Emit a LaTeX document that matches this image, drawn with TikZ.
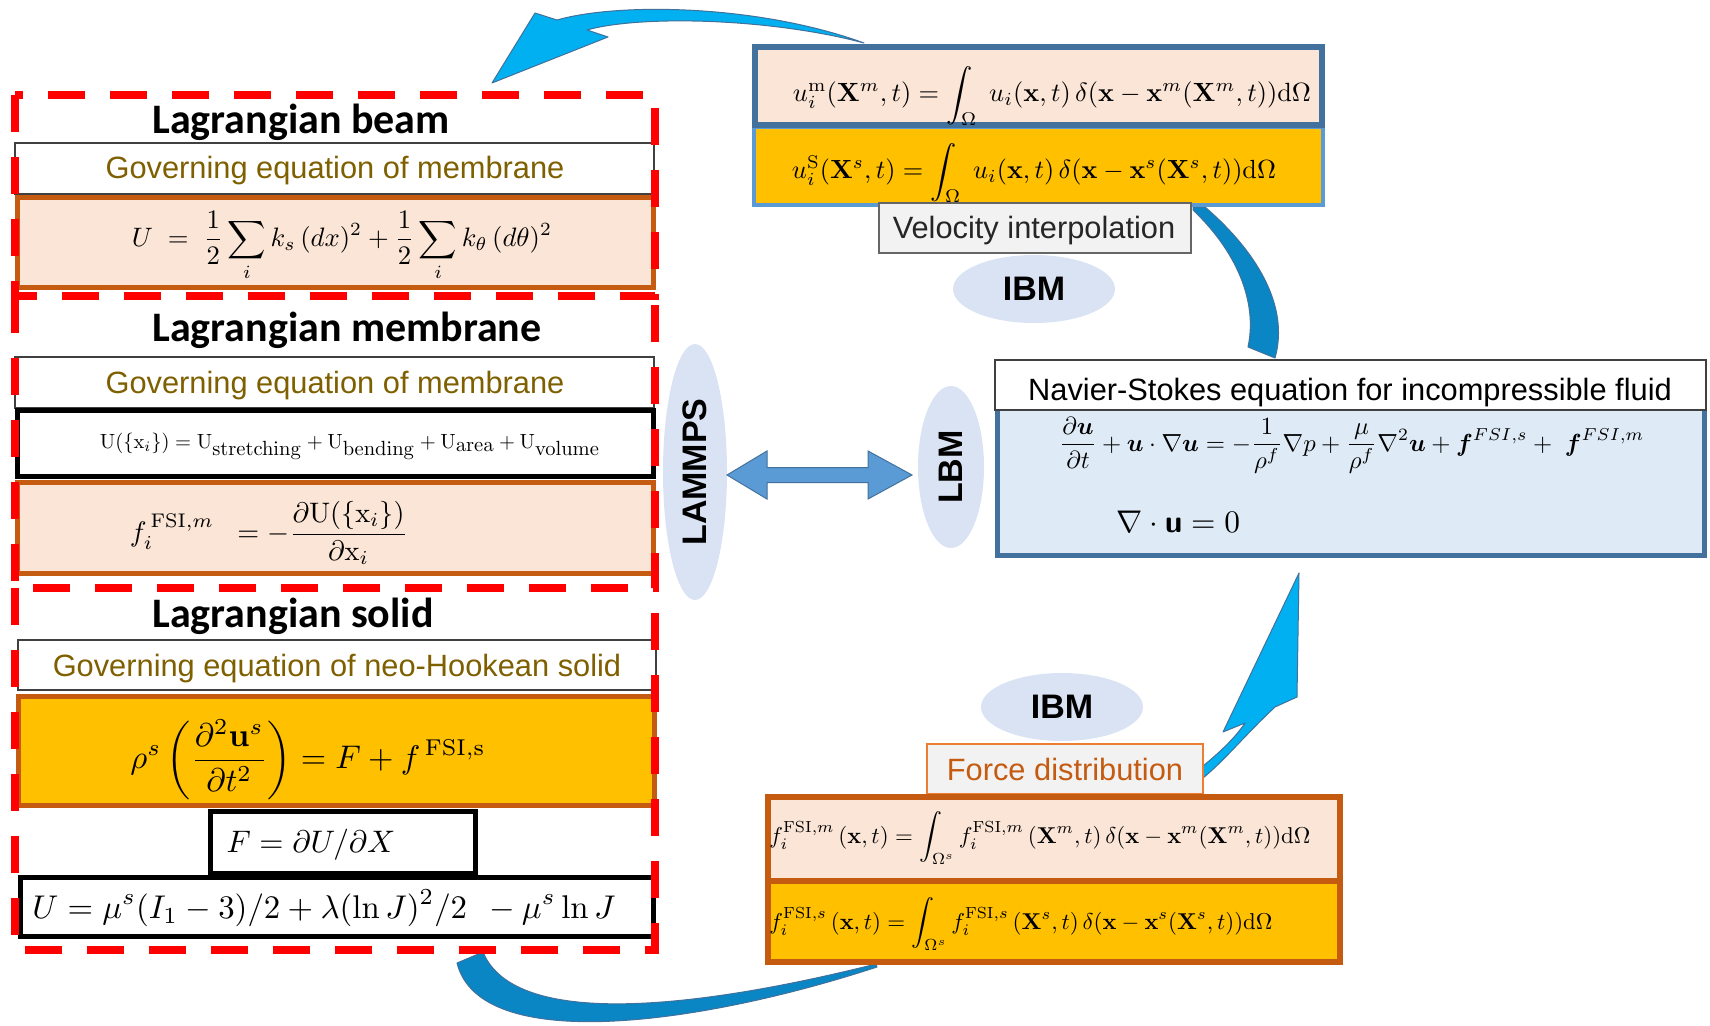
\documentclass[tikz,border=0pt]{standalone}
\usepackage[no-math]{fontspec}
\setmainfont{Liberation Sans}
\newfontfamily\calibfont{Carlito}
\usepackage{amsmath}
\usepackage{bm}
\usepackage{graphicx}
\usetikzlibrary{shapes.geometric,calc}

\definecolor{pinkfill}{HTML}{FBE5D6}
\definecolor{amber}{HTML}{FFC000}
\definecolor{rust}{HTML}{C55A11}
\definecolor{steel}{HTML}{41719C}
\definecolor{skyline}{HTML}{5B9BD5}
\definecolor{paleblue}{HTML}{DEEBF7}
\definecolor{ovalfill}{HTML}{DAE3F3}
\definecolor{olivetext}{HTML}{7F6000}
\definecolor{cyanarrow}{HTML}{00B0F0}
\definecolor{bandblue}{HTML}{0A86C4}
\definecolor{labelgrey}{HTML}{F2F2F2}
\definecolor{orangeline}{HTML}{ED7D31}

% equation scaled to a given width (in pt)
\newcommand{\eqfit}[2]{\resizebox{#1pt}{!}{$\displaystyle #2$}}

\begin{document}
\begin{tikzpicture}[x=1pt, y=-1pt,
  every node/.style={inner sep=0pt, outer sep=0pt},
  hdrbox/.style={draw=black!75, line width=1.5pt, fill=white},
  pinkbox/.style={draw=rust, line width=5pt, fill=pinkfill},
  amberbox/.style={draw=rust, line width=5pt, fill=amber},
  blackbox/.style={draw=black, line width=5pt, fill=white},
  labelbox/.style={draw=#1, line width=1.5pt, fill=labelgrey},
  oval/.style={ellipse, fill=ovalfill},
  redframe/.style={draw=red, line width=8pt, dash pattern=on 37pt off 25pt},
  titletext/.style={font=\calibfont\bfseries\fontsize{42}{48}\selectfont, anchor=base},
  hdrtext/.style={font=\fontsize{30.8}{36}\selectfont, text=olivetext, anchor=base},
  plaintext/.style={font=\fontsize{30.8}{36}\selectfont, anchor=base},
  ovaltext/.style={font=\bfseries\fontsize{34}{40}\selectfont},
  cyanshape/.style={fill=cyanarrow, draw=steel, line width=1pt, line join=round},
  bandshape/.style={fill=bandblue, draw=steel, line width=1pt, line join=round},
  dblarrow/.style={fill=skyline, draw=steel, line width=1pt, line join=miter}
]
\useasboundingbox (0,0) rectangle (1710,1025);

% ---- curved block arrows (behind the boxes) ----
\draw[cyanshape] (557,20) .. controls (620,2) and (760,5) .. (864,43)
  .. controls (770,18) and (640,15) .. (587,30) -- (608,37) -- (492,83) -- (535,13) -- cycle;
\draw[bandshape] (1193,207) -- (1205,207) .. controls (1255,250) and (1290,305) .. (1275,358)
  -- (1248,347) .. controls (1258,300) and (1235,250) .. (1193,210) -- cycle;
\draw[cyanshape] (1299,573) -- (1297,697) -- (1275,707) .. controls (1245,735) and (1225,760) .. (1203,778)
  -- (1203,766) .. controls (1220,752) and (1235,738) .. (1245,723) -- (1223,732) -- cycle;
\draw[bandshape] (457,963) .. controls (480,1055) and (700,1025) .. (877,967)
  -- (876,964) .. controls (700,1008) and (515,1030) .. (483,952) -- cycle;

% ---- Lagrangian beam ----
\node[hdrbox, minimum width=639pt, minimum height=51pt] (beamHead) at (334.5,168.5) {};
\node[pinkbox, minimum width=636pt, minimum height=90pt] (beamEqBox) at (335,242.5) {};

% ---- Lagrangian membrane ----
\node[hdrbox, minimum width=639pt, minimum height=51pt] (memHead) at (334.5,382.5) {};
\node[blackbox, minimum width=636pt, minimum height=66pt] (memEnergyBox) at (335,443) {};
\node[pinkbox, minimum width=636pt, minimum height=91pt] (memForceBox) at (335,527.5) {};

% ---- Lagrangian solid ----
\node[hdrbox, minimum width=638pt, minimum height=50pt] (solHead) at (337,665) {};
\node[amberbox, minimum width=636pt, minimum height=109pt] (solEqBox) at (336,750.5) {};
\node[blackbox, minimum width=265pt, minimum height=62pt] (solFBox) at (342.5,842) {};
\node[blackbox, minimum width=633pt, minimum height=59pt] (solUBox) at (336.5,906.5) {};

% ---- dashed frames ----
\draw[redframe] (15,95) rectangle (655,296);
\draw[redframe] (15,296) -- (15,588) -- (655,588) -- (655,296);
\draw[redframe] (15,588) -- (15,950) -- (655,950) -- (655,588);

% ---- velocity interpolation ----
\node[draw=skyline, line width=4pt, fill=amber, minimum width=569pt, minimum height=78pt] (velSBox) at (1038.5,166) {};
\node[draw=steel, line width=6pt, fill=pinkfill, minimum width=567pt, minimum height=78pt] (velMBox) at (1038.5,86) {};
\node[labelbox=black!60, minimum width=312pt, minimum height=50pt] (velLabel) at (1035,228) {};
\node[oval, minimum width=162pt, minimum height=68pt] (ibmTop) at (1034,289) {};

% ---- fluid solver ----
\node[draw=steel, line width=5pt, fill=paleblue, minimum width=707pt, minimum height=150pt] (nsBody) at (1351,480.5) {};
\node[hdrbox, minimum width=711pt, minimum height=50pt] (nsHead) at (1350.5,385) {};

% ---- coupling ----
\node[oval, minimum width=64pt, minimum height=256pt] (lammps) at (695,472) {};
\node[oval, minimum width=66pt, minimum height=162pt] (lbm) at (951,467) {};
\coordinate (arrL) at (lammps.east |- 0,475);
\coordinate (arrR) at ($(lbm.west |- 0,475)+(-6,0)$);
\draw[dblarrow] (arrL) -- ++(40,-24) -- ++(0,16.5) -- ($(arrR)+(-44,-7.5)$) -- ++(0,-16.5)
  -- (arrR) -- ++(-44,24) -- ++(0,-16.5) -- ($(arrL)+(40,7.5)$) -- ++(0,16.5) -- cycle;

% ---- force distribution ----
\node[oval, minimum width=162pt, minimum height=68pt] (ibmBot) at (1062,707) {};
\node[labelbox=orangeline, minimum width=276pt, minimum height=50pt] (forceLabel) at (1065,769) {};
\node[draw=rust, line width=6pt, fill=amber, minimum width=572pt, minimum height=83pt] (fSBox) at (1054,920.5) {};
\node[draw=rust, line width=6pt, fill=pinkfill, minimum width=572pt, minimum height=84pt] (fMBox) at (1054,839) {};

% ---- texts ----
\node[titletext] (beamTitle) at (301,133) {Lagrangian beam};
\node[hdrtext] (beamHeadText) at (335,178) {Governing equation of membrane};
\node (beamEq) at (342,246) {\eqfit{420}{U\;=\;\frac{1}{2}\sum_i k_s\,(dx)^2+\frac{1}{2}\sum_i k_\theta\,(d\theta)^2}};

\node[titletext] (memTitle) at (347,341) {Lagrangian membrane};
\node[hdrtext] (memHeadText) at (335,393) {Governing equation of membrane};
\node (memEq1) at (350,446) {\eqfit{500}{\mathrm{U}(\{\mathrm{x}_i\})=\mathrm{U}_{\textstyle\mathrm{stretching}}+\mathrm{U}_{\textstyle\mathrm{bending}}+\mathrm{U}_{\textstyle\mathrm{area}}+\mathrm{U}_{\textstyle\mathrm{volume}}}};
\node (memEq2) at (269,533) {\eqfit{278}{f_i^{\,\mathrm{FSI},m}\;\;=-\frac{\partial\mathrm{U}(\{\mathrm{x}_i\})}{\partial\mathrm{x}_i}}};

\node[titletext] (solTitle) at (293,627) {Lagrangian solid};
\node[hdrtext] (solHeadText) at (337,676) {Governing equation of neo-Hookean solid};
\node (solEq) at (308,760) {\eqfit{355}{\rho^s\left(\frac{\partial^2\mathbf{u}^s}{\partial t^2}\right)=F+f^{\,\mathrm{FSI,s}}}};
\node (solF) at (311,845) {\eqfit{169}{F=\partial U/\partial X}};
\node (solU) at (324,908) {\eqfit{583}{U=\mu^s(I_1-3)/2+\lambda(\ln J)^2/2\;\,-\mu^s\ln J}};

\node (velEq1) at (1052,96) {\eqfit{518}{u_i^{\mathrm{m}}(\mathbf{X}^m,t)=\int_\Omega\;u_i(\mathbf{x},t)\,\delta(\mathbf{x}-\mathbf{x}^m(\mathbf{X}^m,t))\mathrm{d}\Omega}};
\node (velEq2) at (1034,173) {\eqfit{484}{u_i^{\mathrm{S}}(\mathbf{X}^s,t)=\int_\Omega\;u_i(\mathbf{x},t)\,\delta(\mathbf{x}-\mathbf{x}^s(\mathbf{X}^s,t))\mathrm{d}\Omega}};
\node[plaintext, text=black!85] (velLabelText) at (1034,238) {Velocity interpolation};
\node[ovaltext] (ibmTopText) at (ibmTop.center) {IBM};

\node[plaintext] (nsHeadText) at (1350,400) {Navier-Stokes equation for incompressible fluid};
\node (nsEq1) at (1352,445) {\eqfit{585}{\frac{\partial\bm{u}}{\partial t}+\bm{u}\cdot\nabla\bm{u}=-\frac{1}{\rho^f}\nabla p+\frac{\mu}{\rho^f}\nabla^2\bm{u}+\bm{f}^{FSI,s}+\;\bm{f}^{FSI,m}}};
\node (nsEq2) at (1178,522) {\eqfit{124}{\nabla\cdot\textbf{\textsf{u}}=0}};

\node[ovaltext, rotate=90] (lammpsText) at (lammps.center) {LAMMPS};
\node[ovaltext, rotate=90] (lbmText) at (lbm.center) {LBM};

\node[ovaltext] (ibmBotText) at (ibmBot.center) {IBM};
\node[plaintext, text=rust] (forceText) at (1065,780) {Force distribution};
\node (fEq1) at (1040,838) {\eqfit{541}{f_i^{\mathrm{FSI},m}\,(\mathbf{x},t)=\int_{\Omega^s}f_i^{\mathrm{FSI},m}\,(\mathbf{X}^m,t)\,\delta(\mathbf{x}-\mathbf{x}^m(\mathbf{X}^m,t))\mathrm{d}\Omega}};
\node (fEq2) at (1021,924) {\eqfit{503}{f_i^{\mathrm{FSI},s}\,(\mathbf{x},t)=\int_{\Omega^s}f_i^{\mathrm{FSI},s}\,(\mathbf{X}^s,t)\,\delta(\mathbf{x}-\mathbf{x}^s(\mathbf{X}^s,t))\mathrm{d}\Omega}};
\end{tikzpicture}
\end{document}
